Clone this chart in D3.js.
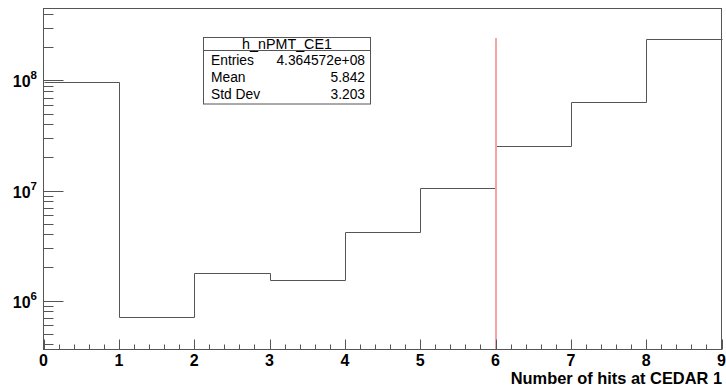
<!DOCTYPE html>
<html><head><meta charset="utf-8">
<script src="https://cdn.jsdelivr.net/npm/d3@7"></script>
<style>body{margin:0;background:#fff}svg{display:block}</style>
</head><body>
<script>
const binEdges = [0,1,2,3,4,5,6,7,8,9];
const counts = [9.6e7, 7.15e5, 1.77e6, 1.55e6, 4.24e6, 1.065e7, 2.56e7, 6.36e7, 2.36e8];
const xTicks = [0,1,2,3,4,5,6,7,8,9];
const yDecades = [1e6, 1e7, 1e8];
const cutValue = 6;
const statTitle = "h_nPMT_CE1";
const statNames = ["Entries","Mean","Std Dev"];
const statValues = ["4.364572e+08","5.842","3.203"];
const xTitle = "Number of hits at CEDAR 1";

const W=726,H=390;
const L=43.5,R=721.5,T=8.5,B=349.5;
const svg=d3.select("body").append("svg").attr("width",W).attr("height",H);
const x=d3.scaleLinear().domain([0,9]).range([L,R]);
const y=d3.scaleLog().domain([3.59e5,4.51e8]).range([B,T]);
const ink="#555";
const font="'Liberation Sans', Arial, Helvetica, sans-serif";
const px=v=>Math.round(x(v))+0.5;

// histogram step
let d="";
counts.forEach((c,i)=>{
  const yy=Math.round(y(c))+0.5;
  d+=(i===0?"M"+px(binEdges[i])+","+yy:"V"+yy)+"H"+px(binEdges[i+1]);
});
svg.append("path").attr("d",d).attr("fill","none").attr("stroke",ink).attr("stroke-width",1);

// red cut line
svg.append("line").attr("x1",px(cutValue)-0.5).attr("x2",px(cutValue)-0.5).attr("y1",38).attr("y2",B)
  .attr("stroke","#f4a4a4").attr("stroke-width",2);

// frame
svg.append("rect").attr("x",L).attr("y",T).attr("width",R-L).attr("height",B-T).attr("fill","none").attr("stroke",ink);

// x ticks
const xg=svg.append("g");
d3.range(0,9.0001,0.2).forEach(v=>{
  const major=Math.abs(v-Math.round(v))<1e-6;
  const xx=px(v);
  xg.append("line").attr("x1",xx).attr("x2",xx).attr("y1",B).attr("y2",B-(major?10:5)).attr("stroke",ink);
});
xTicks.forEach(v=>{
  xg.append("text").attr("x",x(v)).attr("y",366).attr("text-anchor","middle")
   .attr("font-family",font).attr("font-weight","bold").attr("font-size",16).attr("fill","#000").text(v);
});
svg.append("text").attr("x",R+0.5).attr("y",384).attr("text-anchor","end").attr("font-family",font)
  .attr("font-weight","bold").attr("font-size",16.4).attr("fill","#000").text(xTitle);

// y ticks
const yg=svg.append("g");
[1e5,1e6,1e7,1e8].forEach(dd=>{
  for(let k=1;k<10;k++){
    const v=dd*k;
    if(v<y.domain()[0]||v>y.domain()[1]) continue;
    const yy=Math.round(y(v))+0.5;
    yg.append("line").attr("x1",L).attr("x2",L+(k===1?20:10)).attr("y1",yy).attr("y2",yy).attr("stroke",ink);
  }
});
yDecades.forEach(dd=>{
  const t=yg.append("text").attr("x",37).attr("y",y(dd)+7).attr("text-anchor","end")
    .attr("font-family",font).attr("font-weight","bold").attr("font-size",16).attr("fill","#000");
  t.append("tspan").text("10");
  t.append("tspan").attr("dy",-8).attr("font-size",11.5).text(Math.round(Math.log10(dd)));
});

// stat box
const bx=203.5,by=37.5,bw=167,bh=66.5;
const sb=svg.append("g");
sb.append("rect").attr("x",bx).attr("y",by).attr("width",bw).attr("height",bh).attr("fill","#fff").attr("stroke",ink);
sb.append("line").attr("x1",bx).attr("x2",bx+bw).attr("y1",50.5).attr("y2",50.5).attr("stroke",ink);
sb.append("text").attr("x",bx+bw/2).attr("y",48.5).attr("text-anchor","middle").attr("font-family",font)
  .attr("font-size",14.3).attr("fill","#000").text(statTitle);
const rowY=[65,82,99];
statNames.forEach((n,i)=>{
  sb.append("text").attr("x",211).attr("y",rowY[i]).attr("font-family",font).attr("font-size",13.8).attr("fill","#000").text(n);
  sb.append("text").attr("x",365).attr("y",rowY[i]).attr("text-anchor","end").attr("font-family",font).attr("font-size",13.8).attr("fill","#000").text(statValues[i]);
});
</script>
</body></html>
